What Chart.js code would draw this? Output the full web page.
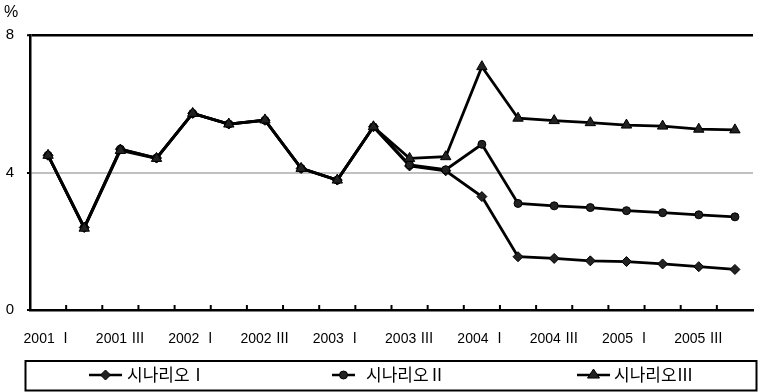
<!DOCTYPE html>
<html>
<head>
<meta charset="utf-8">
<script src="https://cdn.jsdelivr.net/npm/chart.js@4/dist/chart.umd.min.js"></script>
<style>
  html, body { margin: 0; padding: 0; overflow: hidden; background: #fff; }
  #wrap { width: 760px; height: 392px; }
</style>
</head>
<body>
<div id="wrap"><canvas id="c" width="760" height="392"></canvas></div>
<script>
// Quarterly periods, 2001 Q1 – 2005 Q4
const categories = [
  '2001 Ⅰ', '2001 Ⅱ', '2001 Ⅲ', '2001 Ⅳ',
  '2002 Ⅰ', '2002 Ⅱ', '2002 Ⅲ', '2002 Ⅳ',
  '2003 Ⅰ', '2003 Ⅱ', '2003 Ⅲ', '2003 Ⅳ',
  '2004 Ⅰ', '2004 Ⅱ', '2004 Ⅲ', '2004 Ⅳ',
  '2005 Ⅰ', '2005 Ⅱ', '2005 Ⅲ', '2005 Ⅳ'
];
const seriesNames = ['시나리오Ⅰ', '시나리오Ⅱ', '시나리오Ⅲ'];

// Growth rate (%) under each scenario
const scenario1 = [4.50, 2.40, 4.68, 4.42, 5.72, 5.41, 5.52, 4.12, 3.78, 5.33,
                   4.19, 4.05, 3.30, 1.55, 1.50, 1.43, 1.41, 1.34, 1.26, 1.18];
const scenario2 = [4.50, 2.40, 4.68, 4.42, 5.72, 5.41, 5.52, 4.12, 3.78, 5.33,
                   4.22, 4.08, 4.82, 3.10, 3.03, 2.98, 2.89, 2.83, 2.77, 2.71];
const scenario3 = [4.50, 2.38, 4.64, 4.41, 5.72, 5.41, 5.53, 4.12, 3.78, 5.33,
                   4.41, 4.46, 7.08, 5.58, 5.51, 5.45, 5.38, 5.35, 5.26, 5.24];

const yTicks = [0, 4, 8];
const unitLabel = '%';

const pointStyles = ['rectRot', 'circle', 'triangle'];
const pointRadii = [5, 4, 6];

function markerPath(ctx, style, x, y, r) {
  ctx.beginPath();
  if (style === 'rectRot') {
    ctx.moveTo(x, y - r); ctx.lineTo(x + r, y); ctx.lineTo(x, y + r); ctx.lineTo(x - r, y);
    ctx.closePath();
  } else if (style === 'circle') {
    ctx.arc(x, y, r, 0, Math.PI * 2);
  } else {
    const h = r * 1.5;
    ctx.moveTo(x, y - h * 0.66); ctx.lineTo(x + r, y + h * 0.34); ctx.lineTo(x - r, y + h * 0.34);
    ctx.closePath();
  }
}

// Inner tick marks on the category axis, the unit label and the boxed legend
const decorations = {
  id: 'decorations',
  afterDraw(chart) {
    const ctx = chart.ctx;
    const x = chart.scales.x;
    const area = chart.chartArea;
    ctx.save();
    // small upward ticks between categories
    ctx.strokeStyle = '#000';
    ctx.lineWidth = 2;
    for (let i = 0; i < categories.length; i++) {
      const bx = (x.getPixelForValue(i) + x.getPixelForValue(i + 1)) / 2;
      if (bx >= area.right - 1) continue;
      ctx.beginPath();
      ctx.moveTo(bx, area.bottom);
      ctx.lineTo(bx, area.bottom - 5);
      ctx.stroke();
    }
    // unit label
    ctx.fillStyle = '#000';
    ctx.font = '16px "Liberation Sans", "DejaVu Sans", sans-serif';
    ctx.textAlign = 'left';
    ctx.textBaseline = 'middle';
    ctx.fillText(unitLabel, 4, 13);

    // legend box
    ctx.lineWidth = 2;
    ctx.strokeRect(25.5, 361, 731, 29.5);
    const items = [
      { x1: 89, x2: 122, tx: 127 },
      { x1: 332, x2: 355, tx: 366 },
      { x1: 577, x2: 610, tx: 614 }
    ];
    const ly = 375;
    chart.data.datasets.forEach((ds, i) => {
      const it = items[i];
      ctx.strokeStyle = '#000';
      ctx.lineWidth = 2.5;
      ctx.beginPath();
      ctx.moveTo(it.x1, ly); ctx.lineTo(it.x2, ly); ctx.stroke();
      markerPath(ctx, pointStyles[i], (it.x1 + it.x2) / 2, ly, pointRadii[i]);
      ctx.fillStyle = ds.pointBackgroundColor;
      ctx.fill();
      ctx.lineWidth = 1;
      ctx.stroke();
      ctx.fillStyle = '#000';
      ctx.font = '17px "Noto Sans CJK KR", sans-serif';
      ctx.textBaseline = 'middle';
      ctx.fillText(ds.label, it.tx, ly);
    });
    ctx.restore();
  }
};

const seriesData = [scenario1, scenario2, scenario3];

new Chart(document.getElementById('c'), {
  type: 'line',
  data: {
    labels: categories,
    datasets: seriesData.map((d, i) => ({
      label: seriesNames[i],
      data: d,
      borderColor: '#000',
      borderWidth: 2.8,
      pointStyle: pointStyles[i],
      pointRadius: pointRadii[i],
      pointBackgroundColor: '#222',
      pointBorderColor: '#000',
      pointBorderWidth: 1,
      tension: 0,
      order: 2 - i
    }))
  },
  options: {
    responsive: false,
    animation: false,
    events: [],
    layout: { padding: { top: 35, right: 0, left: 0, bottom: 0 } },
    plugins: {
      legend: { display: false },
      tooltip: { enabled: false },
      title: { display: false }
    },
    scales: {
      x: {
        type: 'category',
        offset: true,
        grid: { display: false, drawTicks: false },
        border: { display: true, color: '#000', width: 2.5 },
        ticks: {
          autoSkip: false,
          maxRotation: 0,
          minRotation: 0,
          padding: 21,
          color: '#000',
          font: { family: '"Liberation Sans", "Noto Sans CJK KR", sans-serif', size: 14 },
          callback: (v, i) => (i % 2 === 0 ? categories[i] : '')
        },
        afterFit: (s) => { s.height = 82; }
      },
      y: {
        min: 0,
        max: 8,
        afterBuildTicks: (s) => { s.ticks = yTicks.map(v => ({ value: v })); },
        grid: {
          color: (c) => c.tick && c.tick.value === 4 ? '#c0c0c0' : (c.tick && c.tick.value === 8 ? '#000' : 'rgba(0,0,0,0)'),
          lineWidth: (c) => c.tick && c.tick.value === 8 ? 2.5 : 2,
          tickColor: '#000',
          tickLength: 3,
          tickWidth: 2
        },
        border: { display: true, color: '#000', width: 2.5 },
        ticks: {
          padding: 13,
          color: '#000',
          font: { family: '"Liberation Sans", sans-serif', size: 15 }
        },
        afterFit: (s) => { s.width = 30; }
      }
    }
  },
  plugins: [decorations]
});
</script>
</body>
</html>
